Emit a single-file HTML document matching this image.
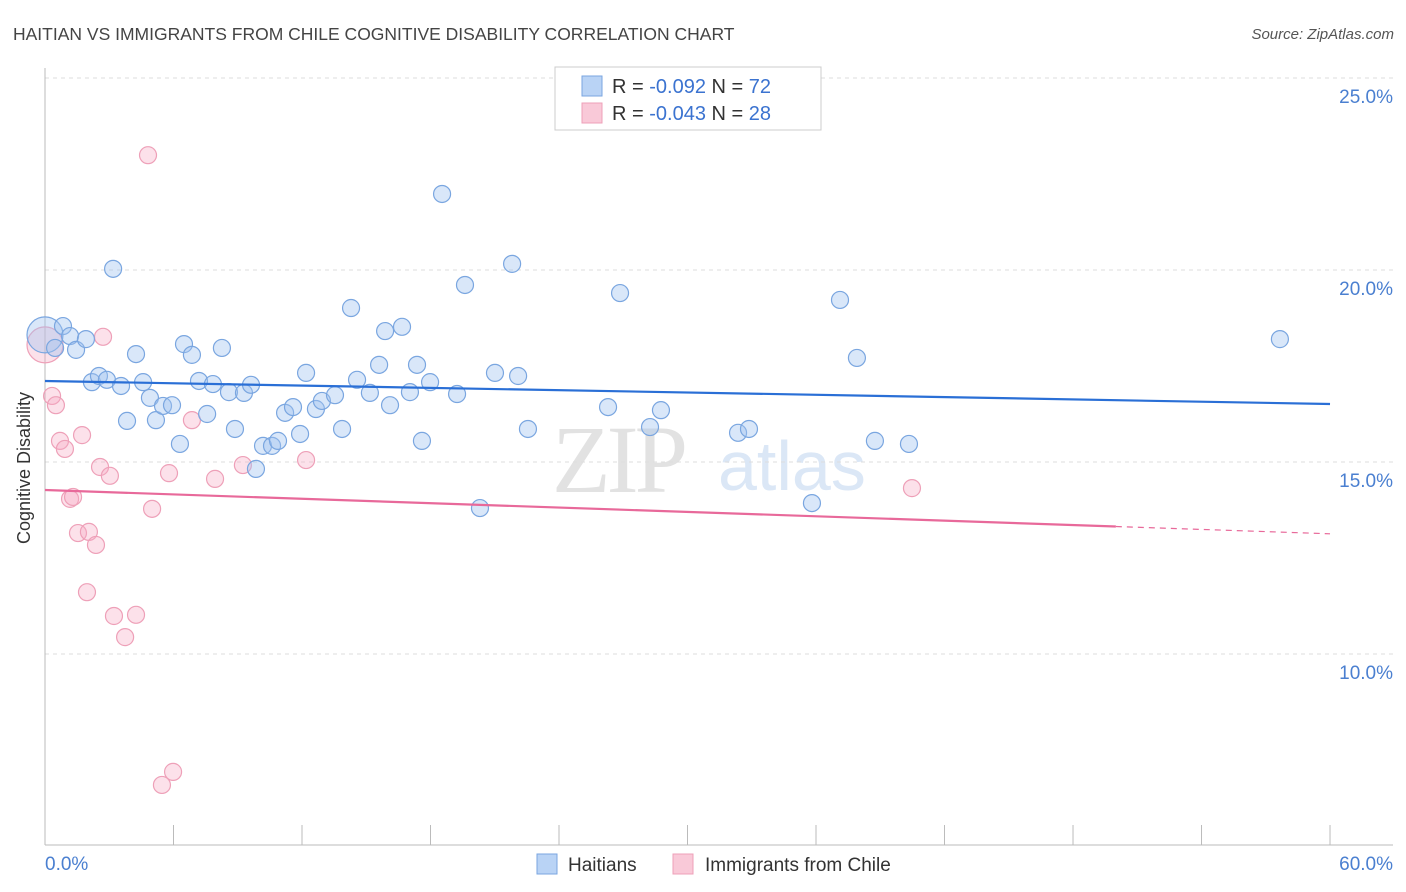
<!DOCTYPE html>
<html><head><meta charset="utf-8"><style>
body{margin:0;background:#fff;font-family:"Liberation Sans",sans-serif;}
svg{display:block}
</style></head><body>
<svg id="chart" width="1406" height="892" xmlns="http://www.w3.org/2000/svg">
<text x="13" y="40" font-size="17.5" fill="#444">HAITIAN VS IMMIGRANTS FROM CHILE COGNITIVE DISABILITY CORRELATION CHART</text>
<text x="1394" y="39" font-size="15" fill="#555" font-style="italic" text-anchor="end">Source: ZipAtlas.com</text>
<g>
<text x="552" y="492" font-size="96" font-family="Liberation Serif,serif" fill="#e2e2e2" letter-spacing="-4">ZIP</text>
<text x="718" y="490" font-size="70" fill="#dbe7f6">atlas</text>
</g>
<g id="grid"></g>
<g id="axes"></g>
<g id="pinkpts"></g>
<g id="bluepts"></g>
<g id="trends"></g>
<text x="18" y="456" font-size="18" fill="#333" transform="rotate(-90 30 456)" text-anchor="middle">Cognitive Disability</text>
<g>
<rect x="555" y="67" width="266" height="63" fill="#fff" stroke="#ccc"/>
<rect x="582" y="76" width="20" height="20" fill="#b9d3f5" stroke="#7aa6e0"/>
<rect x="582" y="103" width="20" height="20" fill="#f9c9d8" stroke="#eea0b8"/>
<text x="612" y="93" font-size="20" fill="#333">R = <tspan fill="#3b73d0">-0.092</tspan>   N = <tspan fill="#3b73d0">72</tspan></text>
<text x="612" y="120" font-size="20" fill="#333">R = <tspan fill="#3b73d0">-0.043</tspan>   N = <tspan fill="#3b73d0">28</tspan></text>
</g>
<g>
<rect x="537" y="854" width="20" height="20" fill="#b9d3f5" stroke="#7aa6e0"/>
<text x="568" y="871" font-size="19" fill="#333">Haitians</text>
<rect x="673" y="854" width="20" height="20" fill="#f9c9d8" stroke="#eea0b8"/>
<text x="705" y="871" font-size="19" fill="#333">Immigrants from Chile</text>
</g>
</svg>
<script>
const yTicks=[10,15,20,25];
const yTickLabels=["10.0%","15.0%","20.0%","25.0%"];
const xTickLabels=["0.0%","60.0%"];
const blueX=[0,0.47,0.84,1.17,1.45,1.91,3.18,2.19,2.52,2.89,3.55,3.83,4.25,4.58,4.90,5.18,5.51,5.93,6.30,6.49,6.86,7.19,7.57,7.84,8.26,8.59,8.87,9.29,9.62,9.85,10.18,10.60,10.88,11.21,11.58,11.91,12.19,12.65,12.93,13.54,13.87,14.29,14.57,15.17,15.60,15.88,16.11,16.67,17.04,17.37,17.60,17.98,18.54,19.24,19.61,20.31,21.01,21.81,22.09,22.55,26.29,26.85,28.25,28.76,32.36,32.87,35.81,37.12,37.91,38.75,40.34,57.66];
const blueY=[18.31,17.97,18.54,18.28,17.92,18.20,20.03,17.08,17.24,17.14,16.98,16.07,17.81,17.08,16.67,16.09,16.46,16.48,15.47,18.07,17.79,17.11,16.25,17.03,17.97,16.82,15.86,16.80,17.01,14.82,15.42,15.42,15.55,16.28,16.43,15.73,17.32,16.38,16.59,16.74,15.86,19.01,17.14,16.80,17.53,18.41,16.48,18.52,16.82,17.53,15.55,17.08,21.98,16.77,19.61,13.80,17.32,20.16,17.24,15.86,16.43,19.40,15.91,16.35,15.76,15.86,13.93,19.22,17.71,15.55,15.47,18.20];
const pinkX=[0,0.33,0.51,0.70,0.93,1.17,1.31,1.54,1.73,2.05,2.38,1.96,2.57,2.71,3.03,3.22,3.74,4.25,4.81,5.00,5.46,5.98,5.79,6.86,7.94,9.24,12.19,40.48];
const pinkY=[18.05,16.72,16.48,15.55,15.34,14.04,14.09,13.15,15.70,13.18,12.84,11.61,14.87,18.26,14.64,10.99,10.44,11.02,22.99,13.78,6.59,6.93,14.71,16.09,14.56,14.92,15.05,14.32];
const blueTrend=[17.11,16.51];
const pinkTrend=[14.27,13.13];
const NS="http://www.w3.org/2000/svg";
const X=v=>45+v*21.417, Y=v=>78+(25-v)*38.4;
function mk(t,a,p){const e=document.createElementNS(NS,t);for(const k in a)e.setAttribute(k,a[k]);p.appendChild(e);return e;}
const grid=document.getElementById('grid'),axes=document.getElementById('axes');
yTicks.forEach((t,i)=>{
 const l=mk('line',{x1:45,x2:1393,y1:Y(t),y2:Y(t),stroke:'#ddd','stroke-dasharray':'4,4'},grid);
 
 
 const tx=mk('text',{x:1393,y:Y(t)+25,'font-size':19,fill:'#4a7fd0','text-anchor':'end'},axes);
 tx.textContent=yTickLabels[i];
 
 
});
mk('line',{x1:45,x2:45,y1:68,y2:845,stroke:'#bbb'},axes);
mk('line',{x1:45,x2:1393,y1:845,y2:845,stroke:'#bbb'},axes);
for(let i=0;i<=10;i++){mk('line',{x1:X(i*6),x2:X(i*6),y1:825,y2:845,stroke:'#bbb'},axes);}
const x0=mk('text',{x:45,y:870,'font-size':19,fill:'#4a7fd0'},axes);x0.textContent=xTickLabels[0];


const x1=mk('text',{x:1393,y:870,'font-size':19,fill:'#4a7fd0','text-anchor':'end'},axes);x1.textContent=xTickLabels[1];


const pp=document.getElementById('pinkpts'),bp=document.getElementById('bluepts');
pinkX.forEach((v,i)=>{const c=mk('circle',{cx:X(v),cy:Y(pinkY[i]),r:i==0?18:8.5,fill:'rgba(245,170,195,0.35)',stroke:'#eea0b8','stroke-width':1.2},pp);
 
 });
blueX.forEach((v,i)=>{const c=mk('circle',{cx:X(v),cy:Y(blueY[i]),r:i==0?18:8.5,fill:'rgba(160,195,240,0.4)',stroke:'#7aa6e0','stroke-width':1.2},bp);
 
 });
const tr=document.getElementById('trends');
const bl=mk('line',{x1:X(0),y1:Y(blueTrend[0]),x2:X(60),y2:Y(blueTrend[1]),stroke:'#2a6fd6','stroke-width':2.2},tr);


const pm=pinkTrend[0]+(pinkTrend[1]-pinkTrend[0])*50/60;
const pl=mk('line',{x1:X(0),y1:Y(pinkTrend[0]),x2:X(50),y2:Y(pm),stroke:'#e8699a','stroke-width':2.2},tr);


const pd=mk('line',{x1:X(50),y1:Y(pm),x2:X(60),y2:Y(pinkTrend[1]),stroke:'#e8699a','stroke-width':1.2,'stroke-dasharray':'6,5'},tr);


</script>
</body></html>
